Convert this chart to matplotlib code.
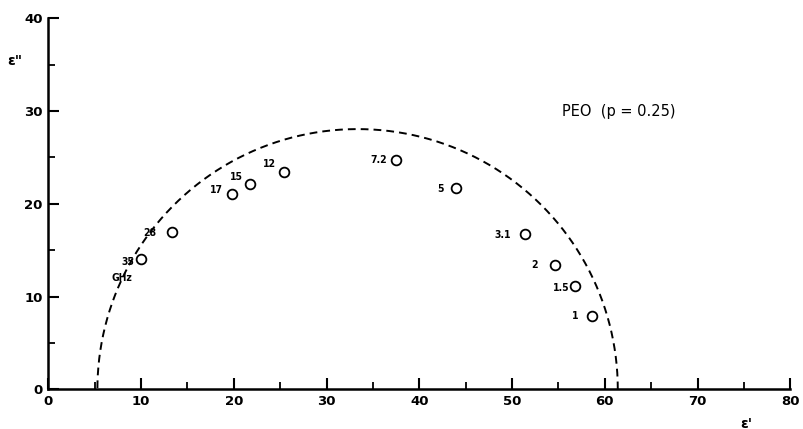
import numpy as np
import matplotlib
matplotlib.use("Agg")
import matplotlib.pyplot as plt

# Data
freq_labels = ["35", "28", "17", "15", "12", "7.2", "5", "3.1", "2", "1.5", "1"]
eps_real = [10.0, 13.3, 19.8, 21.8, 25.4, 37.5, 44.0, 51.4, 54.6, 56.8, 58.6]
eps_imag = [14.1, 17.0, 21.0, 22.1, 23.4, 24.7, 21.7, 16.7, 13.4, 11.1, 7.9]
# label offsets (pixels) relative to points
label_dx = [-7, -15, -9, -8, -8, -9, -13, -14, -17, -6, -13]
label_dy = [-3, -1, 4, 7, 8, 0, -1, -1, 0, -2, 0]

# Semicircle fit (Cole-Cole arc)
eps_inf = 5.3
eps_s = 61.4
arc_center_y = 0.0

x_ticks_major = [0, 10, 20, 30, 40, 50, 60, 70, 80]
y_ticks_major = [0, 10, 20, 30, 40]

fig = plt.figure(figsize=(8.04, 4.29), dpi=100)
ax = fig.add_axes([0.060, 0.0925, 0.923, 0.865])

center = (eps_inf + eps_s) / 2
radius = (eps_s - eps_inf) / 2
theta = np.linspace(0, np.pi, 400)
ax.plot(center + radius * np.cos(theta), arc_center_y + radius * np.sin(theta),
        ls=(0, (4, 2.6)), color="black", lw=1.4)

ax.plot(eps_real, eps_imag, "o", mfc="white", mec="black", ms=7, mew=1.3,
        ls="none")

for lab, x, y, dx, dy in zip(freq_labels, eps_real, eps_imag, label_dx, label_dy):
    ax.annotate(lab, xy=(x, y), xytext=(dx, dy), textcoords="offset pixels",
                ha="right", va="center", fontsize=7.5, fontweight="bold",
                fontstretch="condensed")
ax.annotate("GHz", xy=(eps_real[0], eps_imag[0]), xytext=(-9, -19),
            textcoords="offset pixels", ha="right", va="center",
            fontsize=7.5, fontweight="bold", fontstretch="condensed")

ax.text(61.5, 29.9, "PEO  (p = 0.25)", ha="center", va="center", fontsize=10.5)

ax.set_xlim(0, 80)
ax.set_ylim(0, 40)
ax.set_xticks(x_ticks_major)
ax.set_yticks(y_ticks_major)
ax.set_xticks(np.arange(5, 80, 10), minor=True)
ax.set_yticks(np.arange(5, 40, 10), minor=True)
ax.tick_params(which="major", direction="in", length=8, width=1.5,
               labelsize=9.5, pad=4)
ax.tick_params(which="minor", direction="in", length=5, width=1.3)
for lbl in ax.get_xticklabels() + ax.get_yticklabels():
    lbl.set_fontweight("bold")

for s in ["top", "right"]:
    ax.spines[s].set_visible(False)
for s in ["left", "bottom"]:
    ax.spines[s].set_linewidth(1.8)

ax.text(-3.6, 35.4, 'ε"', ha="center", va="center", fontsize=10,
        fontweight="bold", clip_on=False)
ax.text(75.3, -3.7, "ε'", ha="center", va="center", fontsize=10,
        fontweight="bold", clip_on=False)

fig.savefig("out.png", dpi=100)
